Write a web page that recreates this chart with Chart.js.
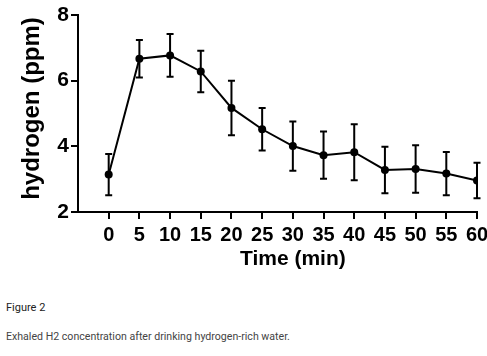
<!DOCTYPE html>
<html>
<head>
<meta charset="utf-8">
<script src="https://cdn.jsdelivr.net/npm/chart.js@4"></script>
<style>
  html, body { margin: 0; padding: 0; background: #fff; }
  #wrap { position: relative; width: 487px; height: 356px; overflow: hidden; }
  #c { position: absolute; left: 0; top: 0; }
  .cap1 { position: absolute; left: 6px; top: 301px; font-family: Roboto, "Liberation Sans", sans-serif; font-size: 11px; color: #222; }
  .cap2 { position: absolute; left: 6px; top: 330px; font-family: Roboto, "Liberation Sans", sans-serif; font-size: 10.6px; color: #444; }
</style>
</head>
<body>
<div id="wrap">
  <canvas id="c" width="487" height="280"></canvas>
  <div class="cap1">Figure 2</div>
  <div class="cap2">Exhaled H2 concentration after drinking hydrogen-rich water.</div>
</div>
<script>
const times = [0, 5, 10, 15, 20, 25, 30, 35, 40, 45, 50, 55, 60];
const means = [3.14, 6.67, 6.77, 6.28, 5.17, 4.52, 4.01, 3.73, 3.82, 3.28, 3.31, 3.17, 2.96];
const errors = [0.63, 0.57, 0.65, 0.63, 0.83, 0.65, 0.75, 0.72, 0.85, 0.71, 0.72, 0.66, 0.54];
const yTicks = [2, 4, 6, 8];
const xTitle = 'Time (min)';
const yTitle = 'hydrogen (ppm)';

const FONT = '"Liberation Sans", Arial, sans-serif';

const errorBars = {
  id: 'errorBars',
  beforeDatasetsDraw(chart) {
    const ctx = chart.ctx, xs = chart.scales.x, ys = chart.scales.y;
    ctx.save();
    ctx.strokeStyle = '#000';
    ctx.lineWidth = 2;
    times.forEach((t, i) => {
      const x = xs.getPixelForValue(t);
      const yt = ys.getPixelForValue(means[i] + errors[i]);
      const yb = ys.getPixelForValue(means[i] - errors[i]);
      ctx.beginPath();
      ctx.moveTo(x, yt); ctx.lineTo(x, yb);
      ctx.moveTo(x - 3.5, yt); ctx.lineTo(x + 3.5, yt);
      ctx.moveTo(x - 3.5, yb); ctx.lineTo(x + 3.5, yb);
      ctx.stroke();
    });
    ctx.restore();
  }
};

const titles = {
  id: 'titles',
  afterDraw(chart) {
    const ctx = chart.ctx, xs = chart.scales.x;
    ctx.save();
    ctx.fillStyle = '#000';
    ctx.textAlign = 'center';
    ctx.textBaseline = 'middle';
    ctx.font = 'bold 21px ' + FONT;
    const xc = (xs.getPixelForValue(times[0]) + xs.getPixelForValue(times[times.length - 1])) / 2;
    ctx.fillText(xTitle, xc, chart.chartArea.bottom + 47);
    ctx.font = 'bold 24px ' + FONT;
    ctx.translate(32, (chart.chartArea.top + chart.chartArea.bottom) / 2 - 5);
    ctx.rotate(-Math.PI / 2);
    ctx.fillText(yTitle, 0, 0);
    ctx.restore();
  }
};

new Chart(document.getElementById('c'), {
  type: 'line',
  data: {
    datasets: [{
      data: times.map((t, i) => ({ x: t, y: means[i] })),
      borderColor: '#000',
      backgroundColor: '#000',
      borderWidth: 2,
      pointRadius: 4,
      pointBackgroundColor: '#000',
      pointBorderColor: '#000',
      pointBorderWidth: 0,
      tension: 0,
      fill: false
    }]
  },
  options: {
    responsive: false,
    animation: false,
    devicePixelRatio: 1,
    layout: { padding: { left: 0, top: 15, right: 10, bottom: 0 } },
    plugins: { legend: { display: false }, tooltip: { enabled: false }, title: { display: false } },
    scales: {
      x: {
        type: 'linear',
        min: -5,
        max: 60,
        afterBuildTicks(scale) { scale.ticks = times.map(v => ({ value: v })); },
        afterFit(scale) { scale.height = 68; scale.paddingLeft = 0; scale.paddingRight = 0; },
        ticks: { color: '#000', font: { family: FONT, size: 20, weight: 'bold' }, padding: 4, maxRotation: 0, autoSkip: false },
        grid: { display: true, drawOnChartArea: false, drawTicks: true, tickLength: 7, color: '#000', lineWidth: 2 },
        border: { display: true, color: '#000', width: 2 }
      },
      y: {
        min: 2,
        max: 8,
        afterBuildTicks(scale) { scale.ticks = yTicks.map(v => ({ value: v })); },
        afterFit(scale) { scale.width = 78; scale.paddingTop = 0; scale.paddingBottom = 0; },
        ticks: { color: '#000', font: { family: FONT, size: 21, weight: 'bold' }, padding: 2 },
        grid: { display: true, drawOnChartArea: false, drawTicks: true, tickLength: 7, color: '#000', lineWidth: 2 },
        border: { display: true, color: '#000', width: 2 }
      }
    }
  },
  plugins: [errorBars, titles]
});
</script>
</body>
</html>
